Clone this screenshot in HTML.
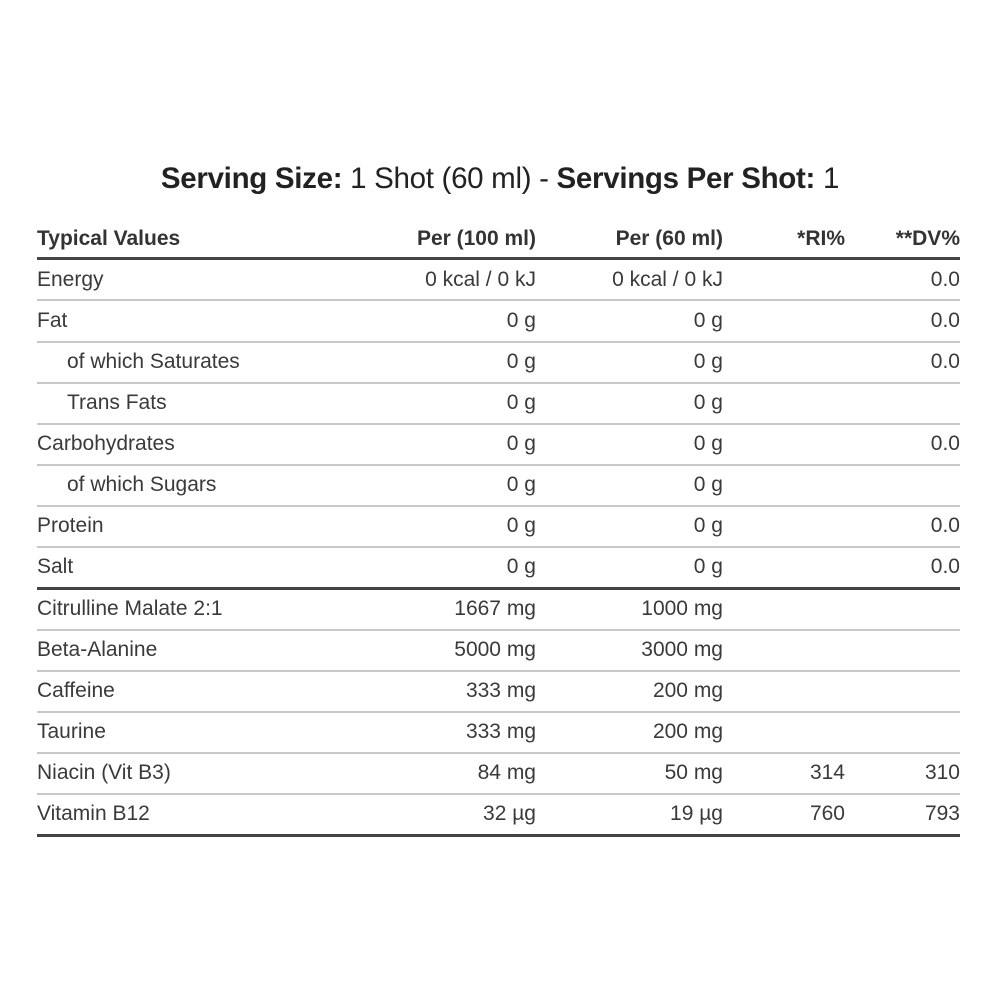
<!DOCTYPE html>
<html><head><style>
body{margin:0;background:#fff;width:1000px;height:1000px;position:relative;overflow:hidden;font-family:"Liberation Sans Narrow","Liberation Sans",sans-serif;color:#3a3a3a}
.t{position:absolute;top:162px;left:0;width:1000px;text-align:center;font-size:29.5px;color:#222;letter-spacing:-0.3px}
.r{position:absolute;left:37px;width:923px;height:41px;font-size:21px;line-height:41px}
.r span{position:absolute;white-space:nowrap}
.a{left:0}.i{left:30px}
.c1{right:424px}.c2{right:237px}.c3{right:115px}.c4{right:0}
.l{position:absolute;left:37px;width:923px;height:2px;background:#c8c8c8}
.k{position:absolute;left:37px;width:923px;height:3px;background:#444}
.h{font-weight:bold;color:#333}
</style></head><body>
<div class="t"><b>Serving Size:</b> 1 Shot (60 ml) - <b>Servings Per Shot:</b> 1</div>
<div class="r h" style="top:218px"><span class="a">Typical Values</span><span class="c1">Per (100 ml)</span><span class="c2">Per (60 ml)</span><span class="c3">*RI%</span><span class="c4">**DV%</span></div>
<div class="k" style="top:257px"></div>
<div class="r" style="top:259px"><span class="a">Energy</span><span class="c1">0 kcal / 0 kJ</span><span class="c2">0 kcal / 0 kJ</span><span class="c4">0.0</span></div>
<div class="l" style="top:299px"></div>
<div class="r" style="top:300px"><span class="a">Fat</span><span class="c1">0 g</span><span class="c2">0 g</span><span class="c4">0.0</span></div>
<div class="l" style="top:341px"></div>
<div class="r" style="top:341px"><span class="i">of which Saturates</span><span class="c1">0 g</span><span class="c2">0 g</span><span class="c4">0.0</span></div>
<div class="l" style="top:382px"></div>
<div class="r" style="top:382px"><span class="i">Trans Fats</span><span class="c1">0 g</span><span class="c2">0 g</span></div>
<div class="l" style="top:423px"></div>
<div class="r" style="top:423px"><span class="a">Carbohydrates</span><span class="c1">0 g</span><span class="c2">0 g</span><span class="c4">0.0</span></div>
<div class="l" style="top:464px"></div>
<div class="r" style="top:464px"><span class="i">of which Sugars</span><span class="c1">0 g</span><span class="c2">0 g</span></div>
<div class="l" style="top:505px"></div>
<div class="r" style="top:505px"><span class="a">Protein</span><span class="c1">0 g</span><span class="c2">0 g</span><span class="c4">0.0</span></div>
<div class="l" style="top:546px"></div>
<div class="r" style="top:546px"><span class="a">Salt</span><span class="c1">0 g</span><span class="c2">0 g</span><span class="c4">0.0</span></div>
<div class="k" style="top:587px"></div>
<div class="r" style="top:588px"><span class="a">Citrulline Malate 2:1</span><span class="c1">1667 mg</span><span class="c2">1000 mg</span></div>
<div class="l" style="top:629px"></div>
<div class="r" style="top:629px"><span class="a">Beta-Alanine</span><span class="c1">5000 mg</span><span class="c2">3000 mg</span></div>
<div class="l" style="top:670px"></div>
<div class="r" style="top:670px"><span class="a">Caffeine</span><span class="c1">333 mg</span><span class="c2">200 mg</span></div>
<div class="l" style="top:711px"></div>
<div class="r" style="top:711px"><span class="a">Taurine</span><span class="c1">333 mg</span><span class="c2">200 mg</span></div>
<div class="l" style="top:752px"></div>
<div class="r" style="top:752px"><span class="a">Niacin (Vit B3)</span><span class="c1">84 mg</span><span class="c2">50 mg</span><span class="c3">314</span><span class="c4">310</span></div>
<div class="l" style="top:793px"></div>
<div class="r" style="top:793px"><span class="a">Vitamin B12</span><span class="c1">32 µg</span><span class="c2">19 µg</span><span class="c3">760</span><span class="c4">793</span></div>
<div class="k" style="top:834px"></div>
</body></html>
